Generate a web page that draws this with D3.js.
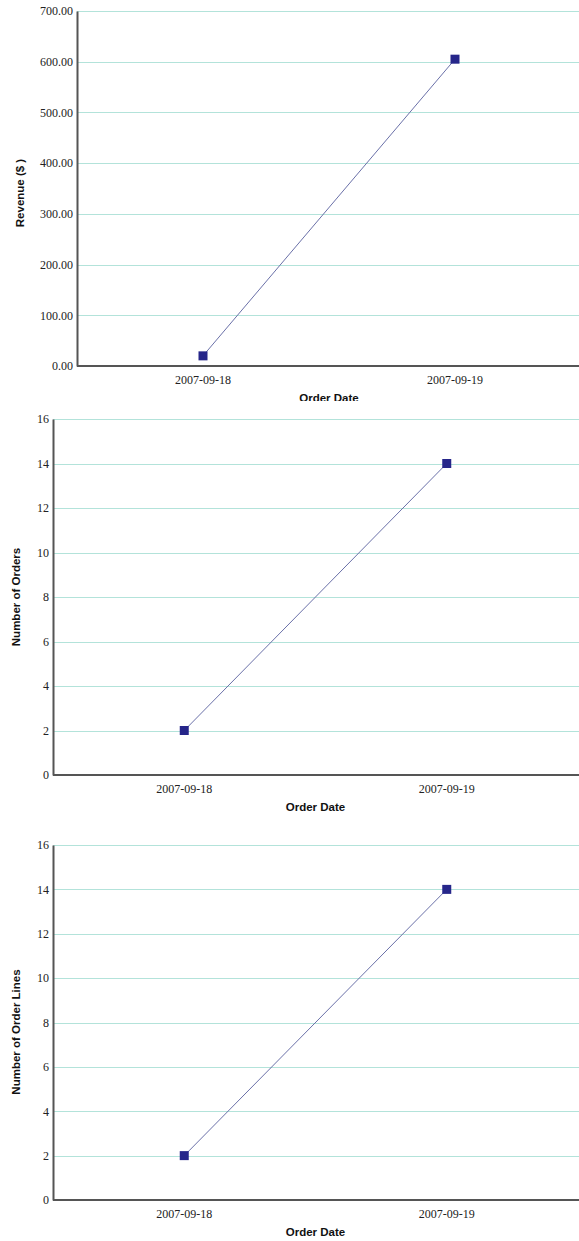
<!DOCTYPE html>
<html>
<head>
<meta charset="utf-8">
<script src="https://cdn.jsdelivr.net/npm/d3@7/dist/d3.min.js"></script>
<style>
  html, body { margin: 0; padding: 0; background: #fff; }
  svg { display: block; }
  .tick text { font-family: "Liberation Serif", serif; font-size: 12px; fill: #222; }
  .ttl { font-family: "Liberation Sans", Arial, sans-serif; font-weight: bold; font-size: 11.5px; fill: #111; }
</style>
</head>
<body>
<script>
// ---- data ----
const dates = ["2007-09-18", "2007-09-19"];
const revenue = [20, 605];
const orders = [2, 14];
const orderLines = [2, 14];
const revenueTicks = [0, 100, 200, 300, 400, 500, 600, 700];
const countTicks = [0, 2, 4, 6, 8, 10, 12, 14, 16];

const W = 579, H = 1241;
const svg = d3.select("body").append("svg").attr("width", W).attr("height", H);

const panels = [
  { values: revenue, ticks: revenueTicks, max: 700, fmt: d3.format(".2f"), ytitle: "Revenue ($ )",
    left: 77, right: 581, top: 11, bottom: 366, clipTop: 0, clipBottom: 401, ytx: 20, ytc: 193 },
  { values: orders, ticks: countTicks, max: 16, fmt: d3.format("d"), ytitle: "Number of Orders",
    left: 53, right: 578, top: 419, bottom: 775, clipTop: 401, clipBottom: 828, ytx: 16, ytc: 597 },
  { values: orderLines, ticks: countTicks, max: 16, fmt: d3.format("d"), ytitle: "Number of Order Lines",
    left: 53, right: 578, top: 845, bottom: 1200, clipTop: 828, clipBottom: 1241, ytx: 16, ytc: 1032 }
];

panels.forEach((p, i) => {
  const cid = "clip" + i;
  svg.append("clipPath").attr("id", cid).append("rect")
    .attr("x", 0).attr("y", p.clipTop).attr("width", W).attr("height", p.clipBottom - p.clipTop);
  const g = svg.append("g").attr("clip-path", `url(#${cid})`);

  const x = d3.scaleBand().domain(dates).range([p.left, p.right]).padding(0);
  const y = d3.scaleLinear().domain([0, p.max]).range([p.bottom, p.top]);

  // gridlines
  g.append("g").selectAll("line").data(p.ticks.filter(t => t > 0)).join("line")
    .attr("x1", p.left).attr("x2", W)
    .attr("y1", d => Math.round(y(d)) + 0.5).attr("y2", d => Math.round(y(d)) + 0.5)
    .attr("stroke", "#b3e3da").attr("stroke-width", 1);

  // y axis
  const ya = g.append("g").attr("transform", `translate(${p.left},0)`)
    .call(d3.axisLeft(y).tickValues(p.ticks).tickFormat(p.fmt).tickSize(0).tickPadding(4));
  ya.select(".domain").attr("stroke", "#555").attr("stroke-width", 2);

  // x axis
  const xa = g.append("g").attr("transform", `translate(0,${p.bottom})`)
    .call(d3.axisBottom(x).tickSize(0).tickPadding(9));
  xa.select(".domain").attr("stroke", "#555").attr("stroke-width", 2).attr("d", `M${p.left},0H${W}`);

  // line
  const line = d3.line().x((d, j) => x(dates[j]) + x.bandwidth() / 2).y(d => y(d));
  g.append("path").datum(p.values).attr("d", line)
    .attr("fill", "none").attr("stroke", "#6a70a8").attr("stroke-width", 1);

  // markers
  g.selectAll("rect.mk").data(p.values).join("rect").attr("class", "mk")
    .attr("x", (d, j) => x(dates[j]) + x.bandwidth() / 2 - 4.5)
    .attr("y", d => y(d) - 4.5)
    .attr("width", 9).attr("height", 9)
    .attr("fill", "#26268a");

  // titles
  g.append("text").attr("class", "ttl")
    .attr("x", (p.left + p.right) / 2).attr("y", p.bottom + 36)
    .attr("text-anchor", "middle").text("Order Date");
  g.append("text").attr("class", "ttl")
    .attr("transform", `translate(${p.ytx + 4},${p.ytc}) rotate(-90)`)
    .attr("text-anchor", "middle").text(p.ytitle);
});
</script>
</body>
</html>
